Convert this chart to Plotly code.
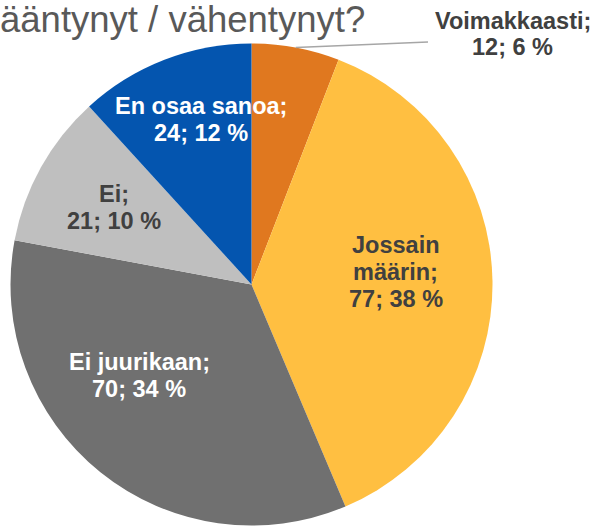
import math
import plotly.graph_objects as go

# ---- data ----
categories = ["Voimakkaasti", "Jossain määrin", "Ei juurikaan", "Ei", "En osaa sanoa"]
counts = [12, 77, 70, 21, 24]
percents = [6, 38, 34, 10, 12]
label_lines = [["Voimakkaasti;"], ["Jossain", "määrin;"], ["Ei juurikaan;"], ["Ei;"], ["En osaa sanoa;"]]
title_text = "ääntynyt / vähentynyt?"

# ---- style ----
colors = ["#E0781F", "#FFBF41", "#707070", "#BFBFBF", "#0455AF"]
text_colors = ["#404040", "#404040", "#FFFFFF", "#404040", "#FFFFFF"]
W, H = 598, 526
CX, CY, R = 251.5, 284.5, 241.0
label_r = [None, 0.60, 0.60, 0.655, 0.716]
angle_shift = [0, -4, 12, 0, 4]
label_font = 23.5
line_gap = 27
FONT = "Liberation Sans, Arial, sans-serif"

fig = go.Figure(go.Pie(
    labels=categories,
    values=counts,
    sort=False,
    direction="clockwise",
    rotation=0,
    marker=dict(colors=colors, line=dict(width=0)),
    textinfo="none",
    hoverinfo="label+value+percent",
    showlegend=False,
    domain=dict(x=[(CX - R) / W, (CX + R) / W], y=[1 - (CY + R) / H, 1 - (CY - R) / H]),
))

def to_paper(px, py):
    return px / W, 1 - py / H

total = sum(counts)
cum = 0
annotations = []
shapes = []
for i, v in enumerate(counts):
    mid = (cum + v / 2) / total * 360
    cum += v
    lines = label_lines[i] + [f"{counts[i]}; {percents[i]} %"]
    if label_r[i] is None:
        a = math.radians(mid)
        sx, sy = CX + R * math.sin(a), CY - R * math.cos(a)
        ex, ey = 428, 42
        x0, y0 = to_paper(sx, sy)
        x1, y1 = to_paper(ex, ey)
        shapes.append(dict(type="line", xref="paper", yref="paper", x0=x0, y0=y0, x1=x1, y1=y1,
                           line=dict(color="#A6A6A6", width=1.5)))
        px, py = 512.5, 34
    else:
        a = math.radians(mid + angle_shift[i])
        px = CX + label_r[i] * R * math.sin(a)
        py = CY - label_r[i] * R * math.cos(a)
    n = len(lines)
    for k, ln in enumerate(lines):
        ly_px = py + (k - (n - 1) / 2) * line_gap
        lx, ly = to_paper(px, ly_px)
        annotations.append(dict(
            x=lx, y=ly, xref="paper", yref="paper", text=f"<b>{ln}</b>", showarrow=False,
            xanchor="center", yanchor="middle", align="center",
            font=dict(family=FONT, size=label_font, color=text_colors[i]),
        ))

annotations.append(dict(
    x=367 / W, y=1.0, xref="paper", yref="paper", text=title_text, showarrow=False,
    xanchor="right", yanchor="top", yshift=3,
    font=dict(family=FONT, size=36.5, color="#595959"),
))

fig.update_layout(
    width=W, height=H,
    margin=dict(l=0, r=0, t=0, b=0),
    paper_bgcolor="white", plot_bgcolor="white",
    annotations=annotations, shapes=shapes,
)

fig.write_html("out.html", config={"displayModeBar": False},
               post_script="document.body.style.margin='0';")
